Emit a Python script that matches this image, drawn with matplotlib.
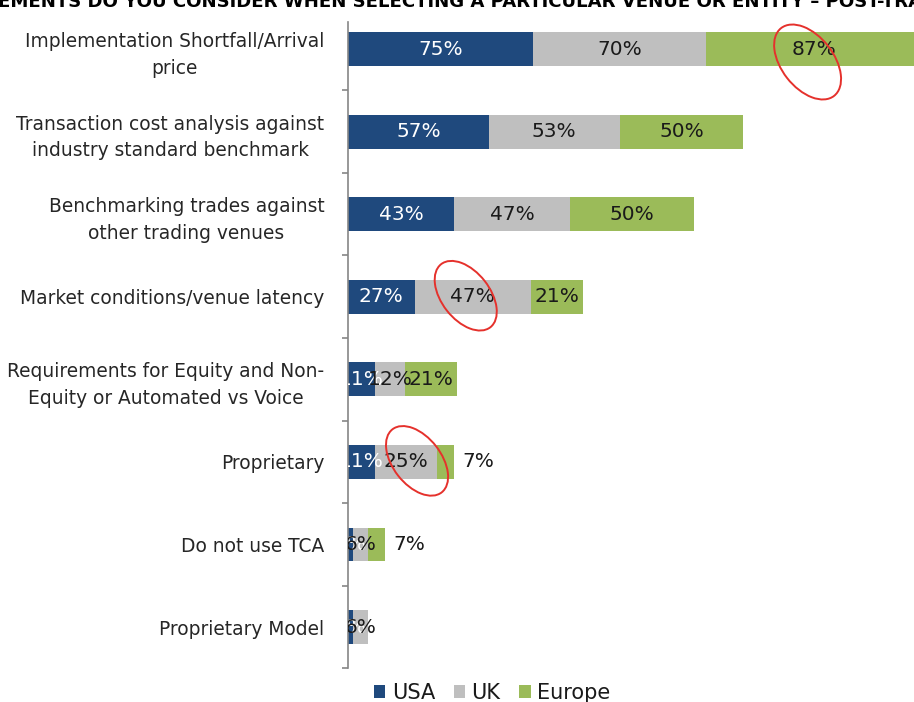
import matplotlib
matplotlib.use("Agg")
import matplotlib.pyplot as plt
from matplotlib.patches import Ellipse, Patch
from matplotlib.transforms import ScaledTranslation

# ---------------- data ----------------
categories = [
    "Implementation Shortfall/Arrival\nprice",
    "Transaction cost analysis against\nindustry standard benchmark",
    "Benchmarking trades against\nother trading venues",
    "Market conditions/venue latency",
    "Requirements for Equity and Non-\nEquity or Automated vs Voice",
    "Proprietary",
    "Do not use TCA",
    "Proprietary Model",
]
usa = [75, 57, 43, 27, 11, 11, 2, 2]
uk = [70, 53, 47, 47, 12, 25, 6, 6]
europe = [87, 50, 50, 21, 21, 7, 7, 0]
series_names = ["USA", "UK", "Europe"]
title_text = "EMENTS DO YOU CONSIDER WHEN SELECTING A PARTICULAR VENUE OR ENTITY \u2013 POST-TRA"

# circled labels: (row, series index)
highlights = [(0, 2), (3, 1), (5, 1)]

# ---------------- style ----------------
colors = ["#1F497D", "#BFBFBF", "#9BBB59"]
label_colors = ["white", "#1a1a1a", "#1a1a1a"]
W, H, DPI = 914, 702, 100
px_per_unit = 2.47

fig = plt.figure(figsize=(W / DPI, H / DPI), dpi=DPI)
ax_left, ax_top, ax_bottom = 348, 22, 668.3
ax = fig.add_axes([ax_left / W, 1 - ax_bottom / H, 1 - ax_left / W, (ax_bottom - ax_top) / H])

n = len(categories)
row_px = 82.57
ytop = -0.5 + (ax_top - (49 - row_px / 2)) / row_px

series = [usa, uk, europe]
lefts = [0] * n
seg_centers = []
for s, vals in enumerate(series):
    ax.barh(range(n), vals, left=lefts, height=0.41, color=colors[s], zorder=2)
    seg_centers.append([l + v / 2 for l, v in zip(lefts, vals)])
    lefts = [l + v for l, v in zip(lefts, vals)]

# data labels
lefts = [0] * n
for s, vals in enumerate(series):
    for i, v in enumerate(vals):
        if v <= 0:
            continue
        if s == 2 and v < 10:
            ax.annotate(f"{v}%", xy=(lefts[i] + v, i), xytext=(6, 0),
                        textcoords="offset points", ha="left", va="center",
                        fontsize=14.5, color=label_colors[s], zorder=5)
        else:
            ax.text(lefts[i] + v / 2, i, f"{v}%", ha="center", va="center",
                    fontsize=14.5, color=label_colors[s], zorder=4 + s, clip_on=True)
    lefts = [l + v for l, v in zip(lefts, vals)]

# axes styling
for sp in ["top", "right", "bottom"]:
    ax.spines[sp].set_visible(False)
ax.spines["left"].set_color("#868686")
ax.spines["left"].set_linewidth(1.2)
ax.set_xticks([])
ax.set_yticks(range(n))
ax.set_yticklabels(categories, fontsize=13.4, color="#262626", multialignment="center",
                   linespacing=1.5)
ax.tick_params(axis="y", which="major", length=0, pad=17)
ax.set_yticks([i + 0.5 for i in range(-1, n)], minor=True)
ax.tick_params(axis="y", which="minor", length=4.5, width=1.2, color="#868686")
ax.set_ylim(n - 0.5, ytop)
ax.set_xlim(0, (W - ax_left) / px_per_unit)

# red circles around highlighted labels
ell_specs = [((-6, 13), 86, 52), ((-7, -1), 80, 48), ((11, -1), 80, 48)]
for (row, s), ((dx, dy), major, minor) in zip(highlights, ell_specs):
    trans = fig.dpi_scale_trans + ScaledTranslation(seg_centers[s][row], row, ax.transData)
    e = Ellipse((dx / DPI, -dy / DPI), major / DPI, minor / DPI, angle=-52,
                transform=trans, fill=False, edgecolor="#E5312C", lw=1.4, zorder=10,
                clip_on=False)
    fig.add_artist(e)

# legend
handles = [Patch(facecolor=c, edgecolor="none") for c in colors]
fig.legend(handles, series_names, loc="center", bbox_to_anchor=(492 / W, 1 - 693 / H),
           ncol=3, frameon=False, fontsize=15, handlelength=0.55, handleheight=0.55,
           handletextpad=0.3, columnspacing=0.9, labelcolor="#1a1a1a")

# title (cropped at figure edges: only its lower part is visible)
t = fig.text(-2 / W, 1 - 7 / H, title_text, ha="left", va="baseline",
             fontsize=11, fontweight="bold", color="black")
fig.canvas.draw()
bb = t.get_window_extent()
t.set_fontsize(11 * 925 / bb.width)

fig.savefig("out.png", dpi=DPI)
